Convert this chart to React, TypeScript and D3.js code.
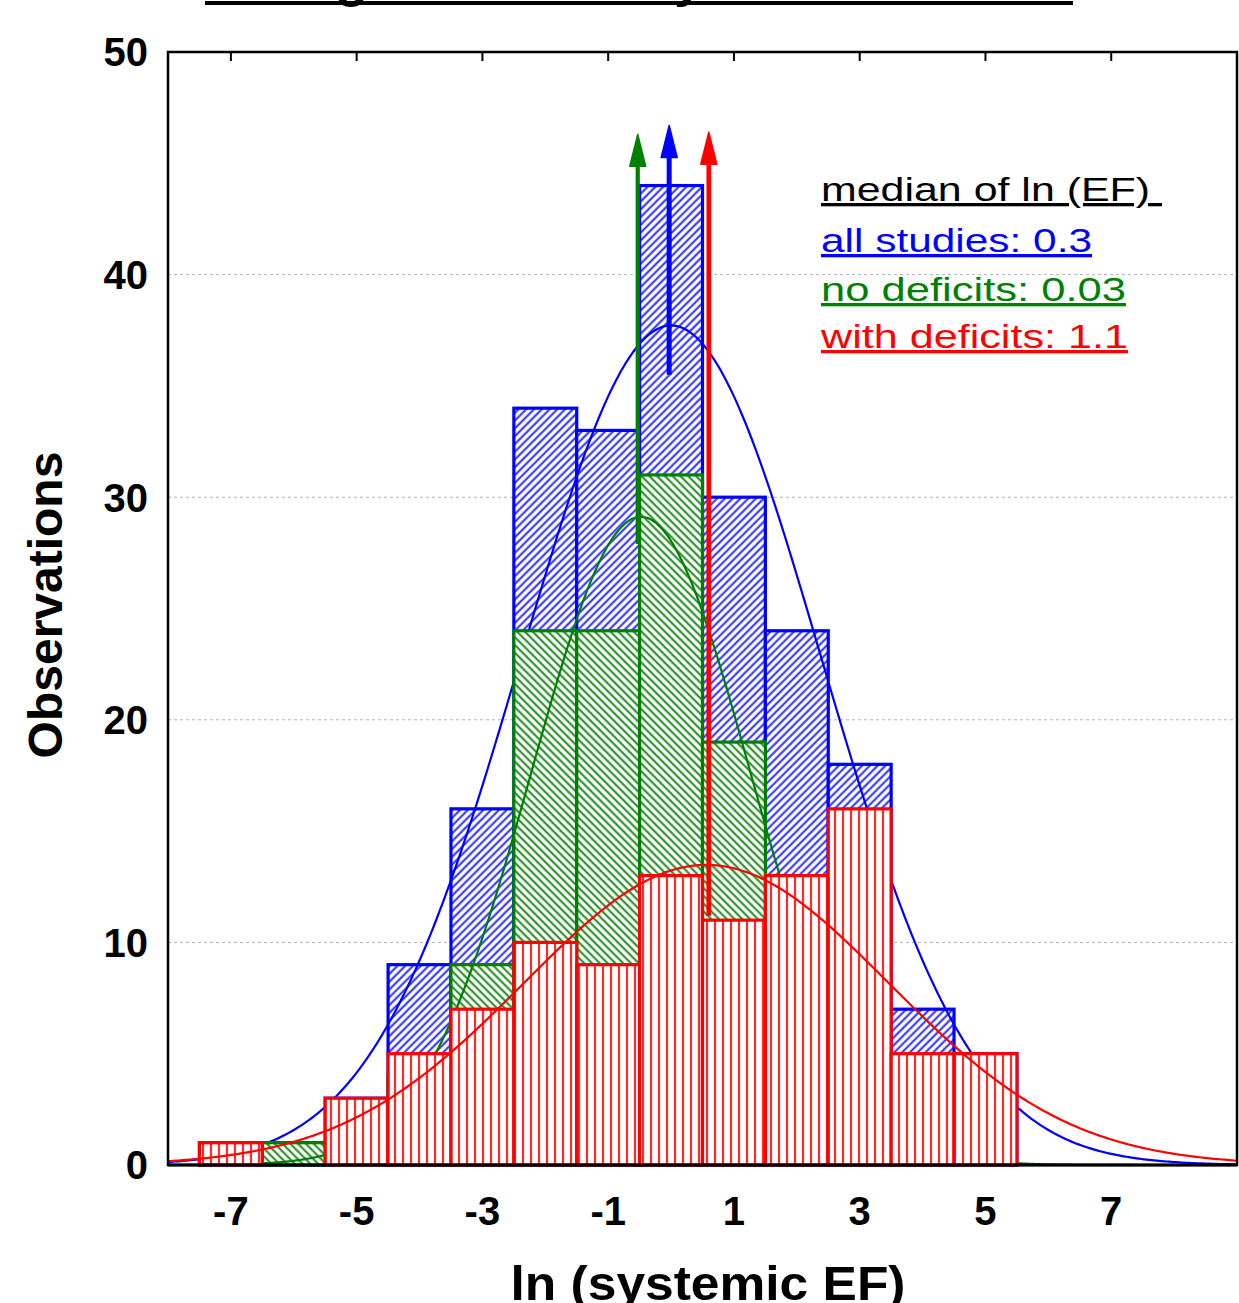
import React from 'react';
import * as d3 from 'd3';

const binCenters = [-7, -6, -5, -4, -3, -2, -1, 0, 1, 2, 3, 4, 5];
const allStudies = [1, 1, 3, 9, 16, 34, 33, 44, 30, 24, 18, 7, 5];
const noDeficits = [0, 1, 0, 4, 9, 24, 24, 31, 19, 11, 2, 2, 0];
const withDeficits = [1, 0, 3, 5, 7, 10, 9, 13, 11, 13, 16, 5, 5];

const xTicks = [-7, -5, -3, -1, 1, 3, 5, 7];
const yTicks = [0, 10, 20, 30, 40, 50];
const gridTicks = [10, 20, 30, 40];

// fitted normal curves (mean, sd) per series
const curveMeans = [0.0, -0.48, 0.56];
const curveSds = [2.38, 1.74, 2.9];

// median arrows: x position, start value, end value
const arrowX = [-0.53, -0.03, 0.6];
const arrowFrom = [27.9, 35.5, 11.2];
const arrowTo = [46.3, 46.7, 46.4];

const legendLines = ['median of ln (EF)\u00a0', 'all studies: 0.3', 'no deficits: 0.03', 'with deficits: 1.1'];

const BLUE = '#0000ff';
const GREEN = '#008000';
const RED = '#ff0000';
const FONT = 'Liberation Sans, Arial, Helvetica, sans-serif';

export default function App() {
  const W = 1239, H = 1303;
  const left = 168, right = 1237, top = 52, bottom = 1165;
  const x = d3.scaleLinear().domain([-8, 9]).range([left, right]);
  const y = d3.scaleLinear().domain([0, 50]).range([bottom, top]);

  const series = [
    { vals: allStudies, color: BLUE, pat: 'url(#hBlue)' },
    { vals: noDeficits, color: GREEN, pat: 'url(#hGreen)' },
    { vals: withDeficits, color: RED, pat: 'url(#hRed)' },
  ];

  const xs = d3.range(-8, 9.0001, 0.04);
  const line = d3.line<number[]>().x(d => x(d[0])).y(d => y(d[1]));
  const curve = (i: number) => {
    const n = d3.sum(series[i].vals);
    const m = curveMeans[i], s = curveSds[i];
    const k = n / (s * Math.sqrt(2 * Math.PI));
    return line(xs.map(v => [v, k * Math.exp(-((v - m) ** 2) / (2 * s * s))])) || '';
  };

  const bars = (i: number) => series[i].vals.map((v, j) => {
    if (v <= 0) return null;
    const c = binCenters[j];
    const x0 = x(c - 0.5), x1 = x(c + 0.5);
    return (
      <rect key={`b${i}-${j}`} x={x0} y={y(v)} width={x1 - x0} height={y(0) - y(v)} fill={series[i].pat}
        stroke={series[i].color} strokeWidth={3.2} />
    );
  });

  const arrow = (i: number, color: string, lw: number) => {
    const ax = x(arrowX[i]);
    const y0 = y(arrowFrom[i]), y1 = y(arrowTo[i]);
    const hl = 32, hw = 8;
    return (
      <g key={`a${i}`}>
        <line x1={ax} x2={ax} y1={y0} y2={y1 + hl - 2} stroke={color} strokeWidth={lw} />
        <path d={`M${ax},${y1} L${ax - hw},${y1 + hl} L${ax + hw},${y1 + hl} Z`} fill={color} stroke={color} strokeWidth={1.5} strokeLinejoin="round" />
      </g>
    );
  };

  const legendY = [201, 252, 301, 348];
  const legendW = [341, 271, 305, 307];
  const legendC = ['#000', BLUE, GREEN, RED];

  return (
    <svg width={W} height={H} style={{ position: 'absolute', left: 0, top: 0, background: '#fff', overflow: 'hidden' }}
      fontFamily={FONT}>
      <defs>
        <pattern id="hBlue" patternUnits="userSpaceOnUse" width={5.5} height={5.5} patternTransform="rotate(45)">
          <rect width={5.5} height={5.5} fill="#fff" />
          <line x1={1.5} y1={0} x2={1.5} y2={5.5} stroke="#2a2aff" strokeWidth={2} />
        </pattern>
        <pattern id="hGreen" patternUnits="userSpaceOnUse" width={5.5} height={5.5} patternTransform="rotate(-45)">
          <rect width={5.5} height={5.5} fill="#fff" />
          <line x1={1.5} y1={0} x2={1.5} y2={5.5} stroke="#1a8a1a" strokeWidth={2} />
        </pattern>
        <pattern id="hRed" patternUnits="userSpaceOnUse" width={8} height={8}>
          <rect width={8} height={8} fill="#fff" />
          <line x1={3} y1={0} x2={3} y2={8} stroke="#ff2a2a" strokeWidth={2.2} />
        </pattern>
        <clipPath id="plotClip">
          <rect x={left} y={top} width={right - left} height={bottom - top + 2} />
        </clipPath>
      </defs>

      {/* title (cut off at the top edge, as in the reference) */}
      <text x={200} y={-4} fontSize={54} fontWeight="bold" fill="#000">Histogram of the systemic EF</text>
      <rect x={205} y={1} width={868} height={4} fill="#000" />

      {/* grid */}
      {gridTicks.map(t => (
        <line key={`g${t}`} x1={left} x2={right} y1={y(t)} y2={y(t)} stroke="#b0b0b0" strokeWidth={1} strokeDasharray="3,3" />
      ))}

      <g clipPath="url(#plotClip)">
        {bars(0)}
        <path d={curve(0)} fill="none" stroke={BLUE} strokeWidth={2.2} />
        {bars(1)}
        <path d={curve(1)} fill="none" stroke={GREEN} strokeWidth={2.2} />
        {bars(2)}
        <path d={curve(2)} fill="none" stroke={RED} strokeWidth={2.2} />
      </g>

      {arrow(0, GREEN, 4.2)}
      {arrow(1, BLUE, 5)}
      {arrow(2, RED, 4.7)}

      {/* frame */}
      <rect x={left} y={top} width={right - left} height={bottom - top} fill="none" stroke="#000" strokeWidth={2.5} />
      <line x1={left} x2={right} y1={bottom} y2={bottom} stroke="#000" strokeWidth={3} />
      {xTicks.map(t => (
        <line key={`tt${t}`} x1={x(t)} x2={x(t)} y1={top} y2={top + 9} stroke="#000" strokeWidth={2} />
      ))}

      {/* tick labels */}
      {yTicks.map(t => (
        <text key={`yl${t}`} x={148} y={y(t)} dy="0.36em" textAnchor="end" fontSize={40} fontWeight="bold">{t}</text>
      ))}
      {xTicks.map(t => (
        <text key={`xl${t}`} x={x(t)} y={1225} textAnchor="middle" fontSize={40} fontWeight="bold">{t}</text>
      ))}

      {/* axis titles */}
      <text transform={`translate(62,605) rotate(-90)`} textAnchor="middle" fontSize={48} fontWeight="bold">Observations</text>
      <text x={708} y={1300} textAnchor="middle" fontSize={48} fontWeight="bold" textLength={395} lengthAdjust="spacingAndGlyphs">ln (systemic EF)</text>

      {/* legend */}
      {legendLines.map((s, i) => (
        <text key={`lg${i}`} x={821} y={legendY[i]} fontSize={33} fill={legendC[i]}
          textLength={legendW[i]} lengthAdjust="spacingAndGlyphs" textDecoration="underline">{s}</text>
      ))}
    </svg>
  );
}
